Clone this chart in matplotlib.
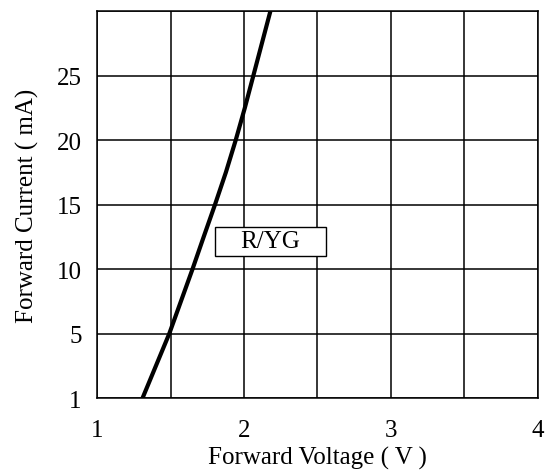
import numpy as np
import matplotlib.pyplot as plt
from matplotlib.patches import Rectangle

# Forward voltage vs forward current, R/YG LED
current_ma = [1, 5, 10, 12.5, 15, 17.5, 20, 22.5, 25, 30]
voltage_v = [1.31, 1.492, 1.65, 1.726, 1.803, 1.877, 1.944, 2.006, 2.064, 2.18]

# y axis is drawn with evenly spaced grid rows (1, 5, 10 ... 30)
y_ticks = [1, 5, 10, 15, 20, 25, 30]
y_labels = ['1', '5', '10', '15', '20', '25', '']
x_ticks = [1, 2, 3, 4]
x_grid = [1.5, 2.5, 3.5]
series_name = 'R/YG'


def to_row(ma):
    return np.interp(ma, y_ticks, np.arange(len(y_ticks)))


plt.rcParams['font.family'] = ['Liberation Serif', 'DejaVu Serif']

fig = plt.figure(figsize=(5.5, 4.77), dpi=100)
ax = fig.add_axes([0.1764, 0.1635, 0.8016, 0.8113])

ax.plot(voltage_v, to_row(current_ma), color='black', lw=3, solid_capstyle='butt',
        solid_joinstyle='round', zorder=3)

ax.set_xlim(1, 4)
ax.set_ylim(0, len(y_ticks) - 1)
ax.set_xticks(x_ticks)
ax.set_xticks(x_grid, minor=True)
ax.set_yticks(np.arange(len(y_ticks)))
ax.set_yticklabels(y_labels)
ax.grid(True, which='both', color='black', lw=1.1)
ax.tick_params(which='both', length=0, labelsize=18)
ax.tick_params(axis='x', pad=15)
ax.tick_params(axis='y', pad=11)
for sp in ax.spines.values():
    sp.set_linewidth(1.1)

ax.set_xlabel('Forward Voltage ( V )', fontsize=18, labelpad=4)
ax.set_ylabel('Forward Current ( mA)', fontsize=18, labelpad=13)

# label box
ax.add_patch(Rectangle((1.80, 2.20), 0.76, 0.45, facecolor='white',
                       edgecolor='black', lw=1, zorder=4))
ax.text(2.18, 2.43, series_name, fontsize=18, ha='center', va='center', zorder=5)

fig.savefig('out.png', dpi=100)
